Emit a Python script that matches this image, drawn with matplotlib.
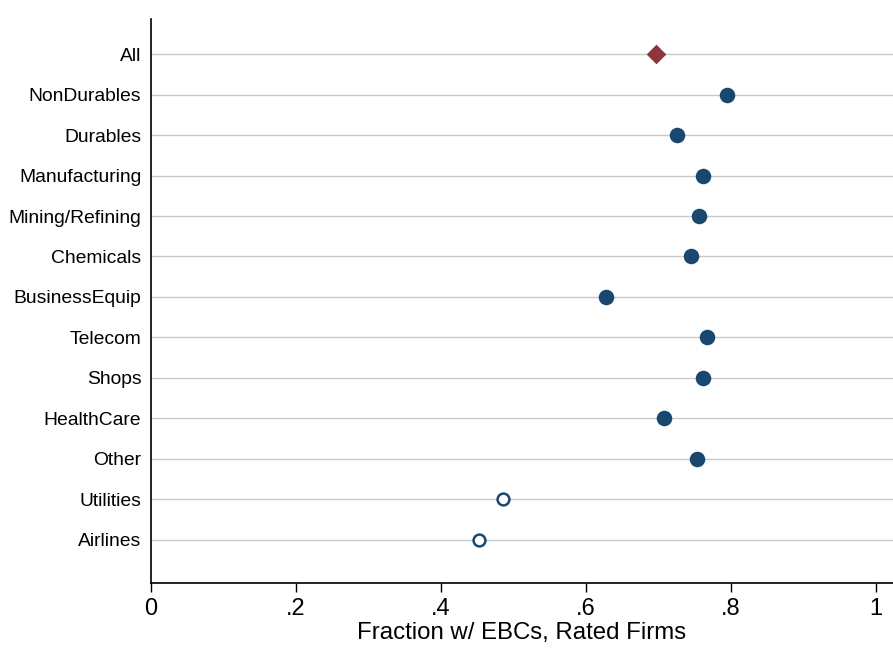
import matplotlib
matplotlib.use("Agg")
import matplotlib.pyplot as plt

plt.rcParams['font.family'] = ['Liberation Sans', 'DejaVu Sans']

industries = ['All', 'NonDurables', 'Durables', 'Manufacturing', 'Mining/Refining',
              'Chemicals', 'BusinessEquip', 'Telecom', 'Shops', 'HealthCare',
              'Other', 'Utilities', 'Airlines']
frac_ebc = [0.696, 0.795, 0.725, 0.762, 0.756, 0.745, 0.628, 0.767, 0.762,
            0.708, 0.753, 0.485, 0.452]
hollow = [False] * 11 + [True, True]

navy = '#1a476f'
maroon = '#90353b'

fig = plt.figure(figsize=(8.93, 6.48), dpi=100)
ax = fig.add_axes([0.1691, 0.1003, 0.8309, 0.8704])

ypos = list(range(1, len(industries) + 1))
for y in ypos:
    ax.axhline(y, color='#c8c8c8', lw=1.0, zorder=1)

for name, v, y, h in zip(industries, frac_ebc, ypos, hollow):
    if name == 'All':
        ax.scatter(v, y, marker='D', s=100, color=maroon, zorder=3, linewidths=0)
    elif h:
        ax.scatter(v, y, marker='o', s=72, facecolors='white', edgecolors=navy,
                   linewidths=1.8, zorder=3)
    else:
        ax.scatter(v, y, marker='o', s=125, color=navy, zorder=3, linewidths=0)

ax.set_ylim(14.07, 0.13)
ax.set_xlim(0, 1.0235)
ax.set_yticks(ypos)
ax.set_yticklabels(industries, fontsize=13.9)
ax.tick_params(axis='y', length=0, pad=7)
ax.set_xticks([0, 0.2, 0.4, 0.6, 0.8, 1.0])
ax.set_xticklabels(['0', '.2', '.4', '.6', '.8', '1'], fontsize=17)
ax.tick_params(axis='x', length=6.5, width=1, pad=4)
ax.set_xlabel('Fraction w/ EBCs, Rated Firms', fontsize=17.3, labelpad=2)

ax.spines['top'].set_visible(False)
ax.spines['right'].set_visible(False)
for s in ('left', 'bottom'):
    ax.spines[s].set_linewidth(1.2)

fig.savefig('out.png', dpi=100)
